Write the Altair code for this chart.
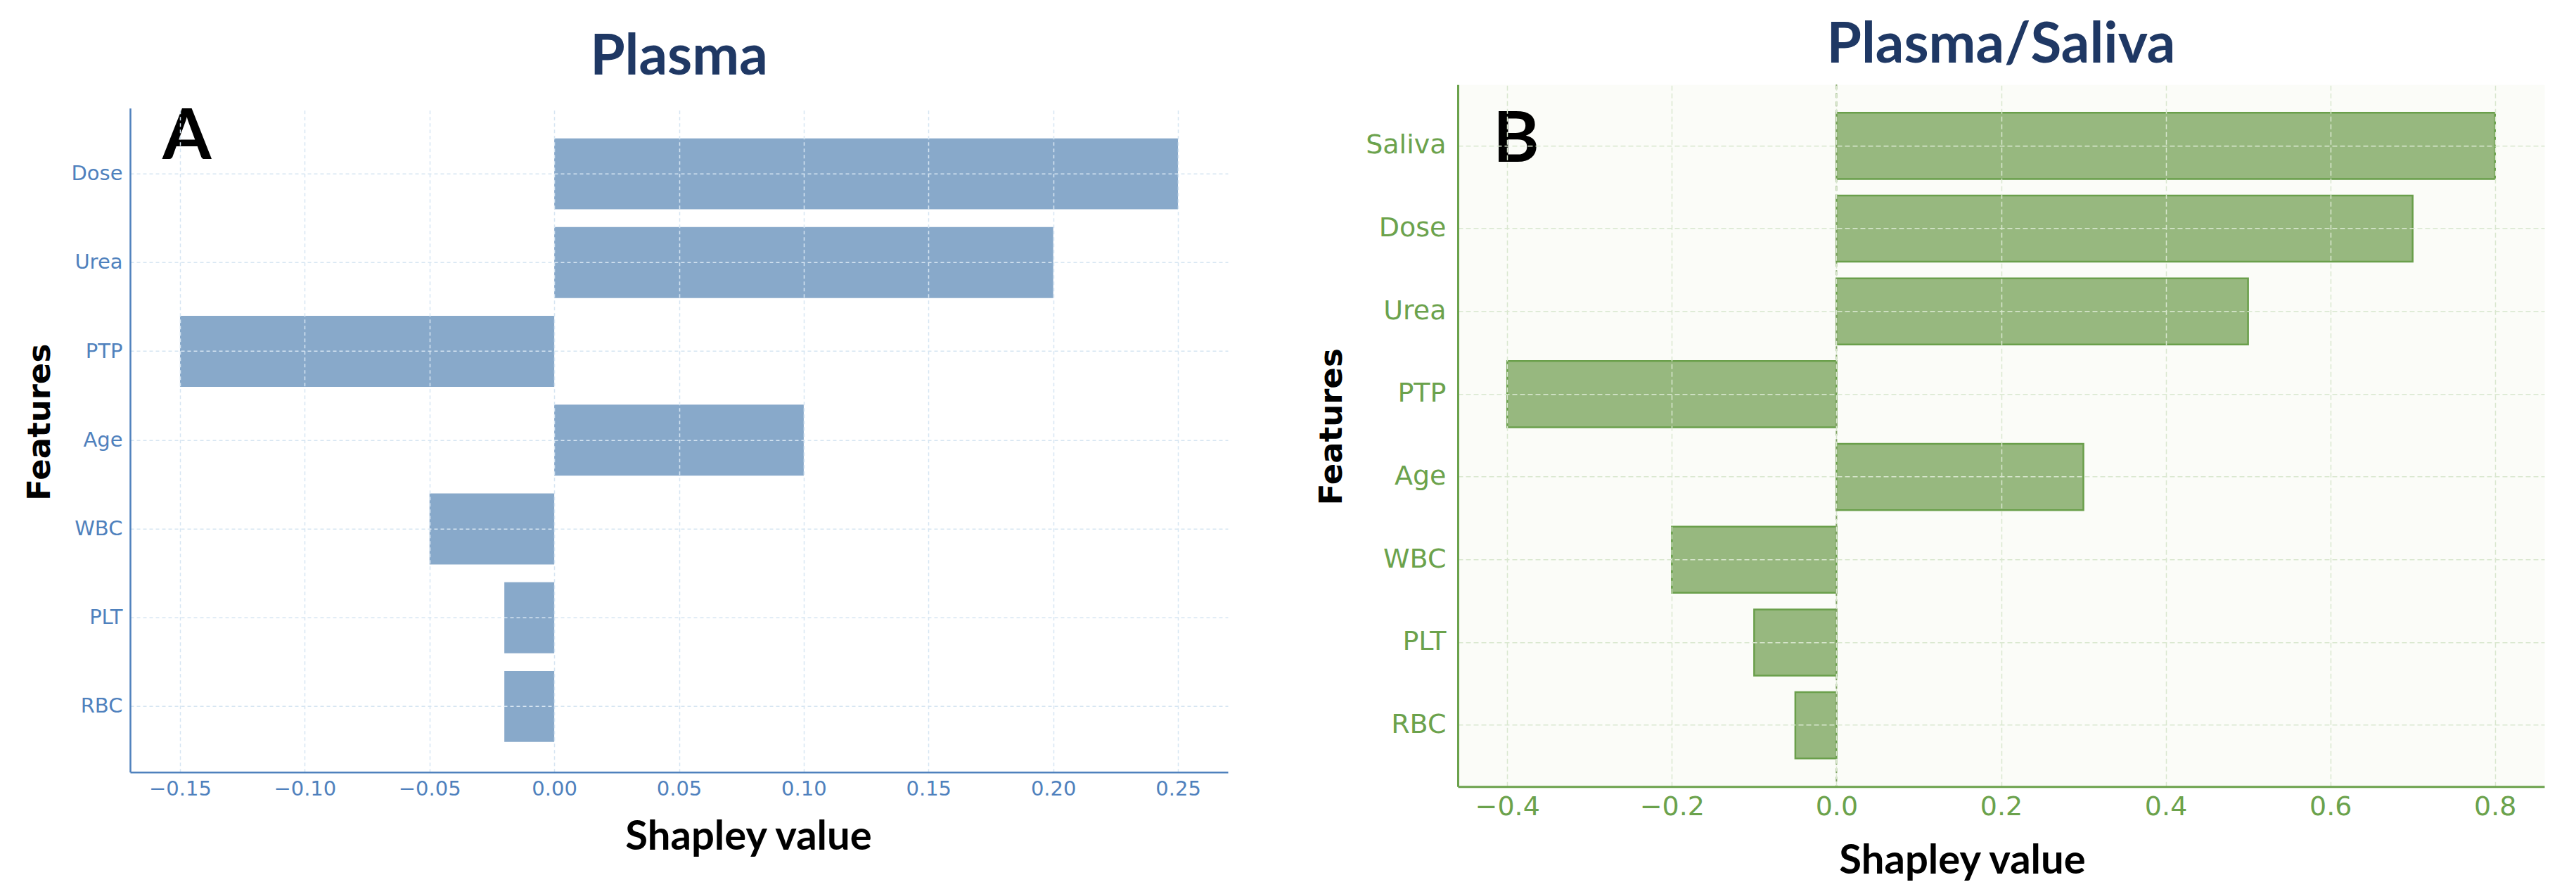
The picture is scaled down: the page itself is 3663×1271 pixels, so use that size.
import altair as alt
import pandas as pd

# ---- data ----
features_a = ["Dose", "Urea", "PTP", "Age", "WBC", "PLT", "RBC"]
values_a = [0.25, 0.20, -0.15, 0.10, -0.05, -0.02, -0.02]
ticks_a = [-0.15, -0.10, -0.05, 0.00, 0.05, 0.10, 0.15, 0.20, 0.25]

features_b = ["Saliva", "Dose", "Urea", "PTP", "Age", "WBC", "PLT", "RBC"]
values_b = [0.8, 0.7, 0.5, -0.4, 0.3, -0.2, -0.1, -0.05]
ticks_b = [-0.4, -0.2, 0.0, 0.2, 0.4, 0.6, 0.8]

title_a = "Plasma"
title_b = "Plasma/Saliva"
letter_a = "A"
letter_b = "B"
x_title = "Shapley value"
y_title = "Features"

df_a = pd.DataFrame({"feature": features_a, "value": values_a})
df_b = pd.DataFrame({"feature": features_b, "value": values_b})

BLUE = "#4f81bd"
GREEN = "#6ba24c"
NAVY = "#1f3864"


def panel(df, feats, ticks, fmt, domain, color_txt, grid_col, grid_dash, bar_fill,
          bar_stroke, w, h, lab_size, title_txt, title_size, title_off,
          ytx, yty, xtx, xty, letter, lx, ly, ypad, xpad, dom_w, zero_rule, bg):
    y_axis = alt.Axis(
        title=y_title, titleFont="DejaVu Sans", titleFontWeight="bold",
        titleFontSize=45, titleColor="black", titleAngle=270,
        titleX=ytx, titleY=yty, titleAlign="center", titleBaseline="middle",
        labelFont="DejaVu Sans", labelFontSize=lab_size, labelColor=color_txt,
        labelPadding=ypad, ticks=False, tickSize=0,
        domainColor=color_txt, domainWidth=dom_w,
        grid=True, gridColor=grid_col, gridDash=grid_dash, gridWidth=1.5,
        bandPosition=0.5, zindex=1,
    )
    x_axis = alt.Axis(
        title=x_title, titleFont="Lato", titleFontWeight="bold",
        titleFontSize=58, titleColor="black",
        titleX=xtx, titleY=xty, titleAlign="center", titleBaseline="middle",
        values=ticks, format=fmt,
        labelFont="DejaVu Sans", labelFontSize=lab_size, labelColor=color_txt,
        labelPadding=xpad, ticks=False, tickSize=0,
        domainColor=color_txt, domainWidth=dom_w,
        grid=True, gridColor=grid_col, gridDash=grid_dash, gridWidth=1.5,
        zindex=1,
    )
    y_enc = alt.Y("feature:N", sort=feats, axis=y_axis,
                  scale=alt.Scale(paddingInner=0.2, paddingOuter=0.34))
    x_enc = alt.X("value:Q", axis=x_axis,
                  scale=alt.Scale(domain=domain, nice=False, zero=False))
    bar_kwargs = dict(color=bar_fill)
    if bar_stroke:
        bar_kwargs.update(stroke=bar_stroke, strokeWidth=2.5)
    bars = alt.Chart(df).mark_bar(**bar_kwargs).encode(x=x_enc, y=y_enc)
    layers = [bars]
    if zero_rule:
        rule = alt.Chart(pd.DataFrame({"z": [0.0]})).mark_rule(
            color="#7fa263", strokeDash=[7, 5], strokeWidth=2
        ).encode(x="z:Q")
        layers.append(rule)
    txt = alt.Chart(pd.DataFrame({"label": [letter]})).mark_text(
        font="Lato", fontWeight="bold", fontSize=100, color="black",
        align="left", baseline="alphabetic"
    ).encode(text="label:N", x=alt.value(lx), y=alt.value(ly))
    layers.append(txt)
    return alt.layer(*layers).properties(
        width=w, height=h,
        view=alt.ViewBackground(fill=bg, stroke="transparent"),
        title=alt.TitleParams(
            text=title_txt, font="Lato", fontSize=title_size, fontWeight="bold",
            color=NAVY, anchor="middle", offset=title_off,
        ),
    )


chart_a = panel(df_a, features_a, ticks_a, ".2f", [-0.17, 0.27], BLUE, "#d6e5f2",
                [5, 4], "#88a9ca", None, 1561, 944, 29, title_a, 80, 23,
                -129, 446, 879, 93, letter_a, 46, 72, 11, 10, 2.5, False, "white")
chart_b = panel(df_b, features_b, ticks_b, ".1f", [-0.46, 0.86], GREEN, "#d9e7cf",
                [7, 4], "#97b87f", "#6a9f4b", 1545, 998, 38, title_b, 80, 13,
                -180, 486, 717, 106, letter_b, 50, 110, 17, 10, 3, True, "#fbfcf8")

chart = alt.hconcat(chart_a, chart_b, spacing=123, center=True).properties(
    padding={"left": 25, "top": 16, "right": 5, "bottom": 5}
).configure_view(stroke="transparent").configure(background="white")

chart.save("out.html", embed_options={"renderer": "svg", "actions": False})
